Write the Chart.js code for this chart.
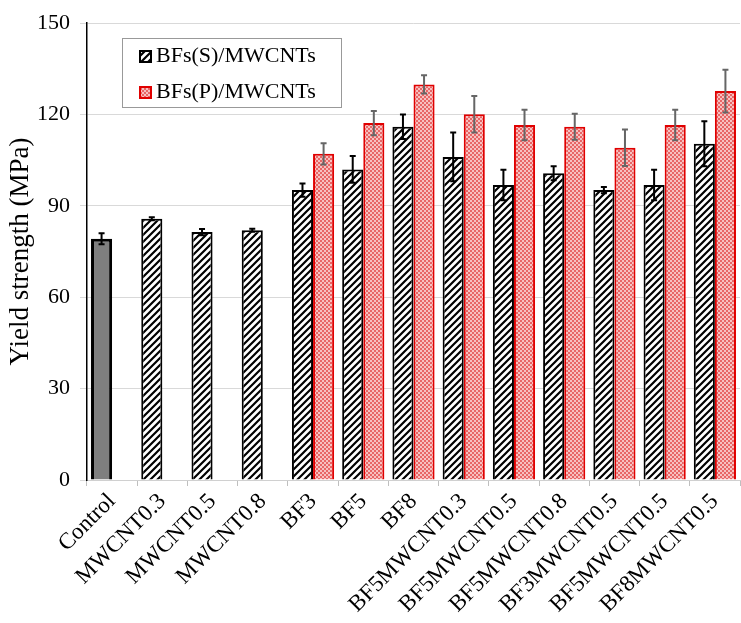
<!DOCTYPE html>
<html>
<head>
<meta charset="utf-8">
<script src="https://cdn.jsdelivr.net/npm/chart.js@4.4.1/dist/chart.umd.min.js"></script>
<style>
  html, body { margin: 0; padding: 0; background: #fff; }
  #wrap { width: 741px; height: 623px; }
</style>
</head>
<body>
<div id="wrap"><canvas id="chart" width="741" height="623"></canvas></div>
<script>
const categories = ["Control", "MWCNT0.3", "MWCNT0.5", "MWCNT0.8", "BF3", "BF5", "BF8",
    "BF5MWCNT0.3", "BF5MWCNT0.5", "BF5MWCNT0.8", "BF3MWCNT0.5", "BF5MWCNT0.5", "BF8MWCNT0.5"];
const sValues = [79.2, 85.8, 81.4, 82.0, 95.2, 102.0, 116.0, 106.1, 96.9, 100.7, 95.2, 96.9, 110.4];
const sErrors = [1.8, 0.5, 1.0, 0.5, 2.2, 4.4, 4.0, 8.0, 5.0, 2.3, 1.0, 5.0, 7.4];
const pValues = [null, null, null, null, 107.1, 117.2, 129.9, 120.1, 116.6, 116.0, 109.1, 116.6, 127.7];
const pErrors = [null, null, null, null, 3.5, 4.0, 3.0, 6.0, 5.0, 4.3, 6.0, 5.0, 7.0];
const yTicks = [0, 30, 60, 90, 120, 150];
const seriesNames = ["BFs(S)/MWCNTs", "BFs(P)/MWCNTs"];

const serif = "'Liberation Serif', 'Times New Roman', serif";

function makeHatch() {
    const c = document.createElement("canvas");
    c.width = 7; c.height = 7;
    const g = c.getContext("2d");
    g.fillStyle = "#fff";
    g.fillRect(0, 0, 7, 7);
    g.strokeStyle = "#000";
    g.lineWidth = 2.2;
    g.beginPath();
    g.moveTo(-1, 8); g.lineTo(8, -1);
    g.moveTo(-4, 4); g.lineTo(4, -4);
    g.moveTo(3, 11); g.lineTo(11, 3);
    g.stroke();
    return g.createPattern(c, "repeat");
}

function makeChecker() {
    const c = document.createElement("canvas");
    c.width = 4; c.height = 4;
    const g = c.getContext("2d");
    g.fillStyle = "#f7c0c0";
    g.fillRect(0, 0, 4, 4);
    g.fillStyle = "#e86666";
    g.fillRect(0, 0, 2, 2);
    g.fillRect(2, 2, 2, 2);
    return g.createPattern(c, "repeat");
}

const hatch = makeHatch();
const checker = makeChecker();

const sFill = sValues.map((v, i) => i === 0 ? "#7f7f7f" : hatch);
const sBorderW = sValues.map((v, i) => i === 0 ? 3 : 2);

const errorBars = {
    id: "errorBars",
    afterDatasetsDraw(chart) {
        const ctx = chart.ctx;
        const y = chart.scales.y;
        const sets = [[sValues, sErrors, "#000"], [pValues, pErrors, "#666"]];
        sets.forEach(([vals, errs, color], di) => {
            const meta = chart.getDatasetMeta(di);
            ctx.save();
            ctx.strokeStyle = color;
            ctx.lineWidth = 2;
            vals.forEach((v, i) => {
                if (v == null) return;
                const x = meta.data[i].x;
                const top = y.getPixelForValue(v + errs[i]);
                const bot = y.getPixelForValue(v - errs[i]);
                ctx.beginPath();
                ctx.moveTo(x, top); ctx.lineTo(x, bot);
                ctx.moveTo(x - 3, top); ctx.lineTo(x + 3, top);
                ctx.moveTo(x - 3, bot); ctx.lineTo(x + 3, bot);
                ctx.stroke();
            });
            ctx.restore();
        });
    }
};

const boxLegend = {
    id: "boxLegend",
    afterDraw(chart) {
        const ctx = chart.ctx;
        ctx.save();
        ctx.fillStyle = "#fff";
        ctx.fillRect(122, 38, 219, 69);
        ctx.strokeStyle = "#999";
        ctx.lineWidth = 1;
        ctx.strokeRect(122.5, 38.5, 219, 69);
        const rows = [
            [hatch, "#000", 50, 62],
            [checker, "#e00000", 86, 98]
        ];
        ctx.font = "22px " + serif;
        ctx.textBaseline = "alphabetic";
        rows.forEach(([fill, border, iy, base], k) => {
            ctx.fillStyle = fill;
            ctx.fillRect(139, iy, 13, 13);
            ctx.strokeStyle = border;
            ctx.lineWidth = 2;
            ctx.strokeRect(140, iy + 1, 11, 11);
            ctx.fillStyle = "#000";
            ctx.fillText(seriesNames[k], 156, base);
        });
        ctx.restore();
    }
};

new Chart(document.getElementById("chart"), {
    type: "bar",
    data: {
        labels: categories,
        datasets: [{
            label: seriesNames[0],
            data: sValues,
            backgroundColor: sFill,
            borderColor: "#000",
            borderWidth: sBorderW,
            categoryPercentage: 0.84,
            barPercentage: 1.0
        }, {
            label: seriesNames[1],
            data: pValues,
            backgroundColor: checker,
            borderColor: "#e00000",
            borderWidth: 2,
            categoryPercentage: 0.84,
            barPercentage: 1.0
        }]
    },
    options: {
        responsive: false,
        animation: false,
        layout: { padding: { top: 18, right: 1, left: 0, bottom: 0 } },
        plugins: {
            legend: { display: false },
            tooltip: { enabled: false }
        },
        scales: {
            x: {
                grid: {
                    offset: true,
                    drawOnChartArea: false,
                    color: "#bfbfbf",
                    tickLength: 6
                },
                border: { color: "#d0d0d0", width: 1 },
                ticks: {
                    color: "#000",
                    font: { family: serif, size: 23 },
                    minRotation: 45,
                    maxRotation: 45,
                    padding: 2,
                    autoSkip: false
                },
                afterFit: s => { s.height = 143; }
            },
            y: {
                min: 0,
                max: 150,
                afterBuildTicks: s => { s.ticks = yTicks.map(v => ({ value: v })); },
                grid: { color: "#d9d9d9", tickLength: 7 },
                border: { color: "#000", width: 1.5 },
                ticks: {
                    color: "#000",
                    font: { family: serif, size: 22 },
                    padding: 10
                },
                title: {
                    display: true,
                    text: "Yield strength (MPa)",
                    color: "#000",
                    font: { family: serif, size: 27 },
                    padding: { top: 5, bottom: 0 }
                },
                afterFit: s => { s.width = 87; }
            }
        }
    },
    plugins: [errorBars, boxLegend]
});
</script>
</body>
</html>
